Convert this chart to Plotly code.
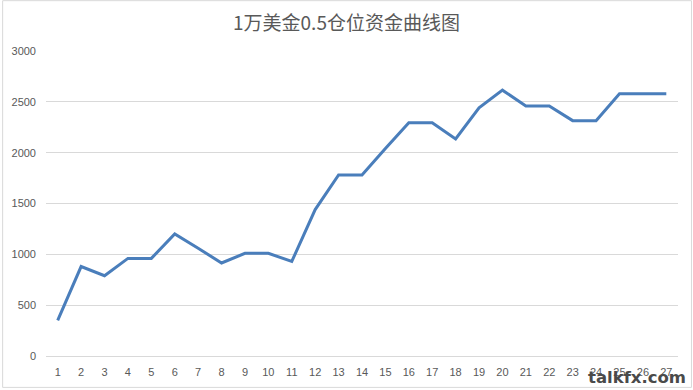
import plotly.graph_objects as go

# Data
periods = list(range(1, 28))
capital = [350, 880, 790, 960, 960, 1200, 1060, 915, 1010, 1010, 930, 1440, 1780, 1780,
           2040, 2295, 2295, 2135, 2440, 2615, 2460, 2460, 2315, 2315, 2580, 2580, 2580]
y_ticks = [0, 500, 1000, 1500, 2000, 2500, 3000]
title_text = "1万美金0.5仓位资金曲线图"
watermark = "talkfx.com"

W, H = 693, 390
L, R, T, B = 44, 15, 51, 33
pw, ph = W - L - R, H - T - B

fig = go.Figure()
fig.add_trace(go.Scatter(
    x=periods, y=capital, mode="lines",
    line=dict(color="#4a7ebb", width=3),
    hoverinfo="x+y", showlegend=False,
))

fig.update_layout(
    width=W, height=H,
    margin=dict(l=L, r=R, t=T, b=B, pad=0),
    paper_bgcolor="white", plot_bgcolor="white",
    title=dict(text=title_text, x=0.5, xref="container", xanchor="center",
               y=1 - 23 / H, yref="container", yanchor="middle",
               font=dict(family="Noto Sans CJK SC", size=19, color="#595959")),
    xaxis=dict(
        type="linear", range=[0.5, 27.5], tickmode="array", tickvals=periods,
        ticktext=[str(p) for p in periods],
        showgrid=False, zeroline=False, showline=True, linecolor="#d9d9d9", linewidth=1,
        ticks="", ticklabelstandoff=6,
        tickfont=dict(family="Liberation Sans", size=11, color="#595959"),
        fixedrange=True,
    ),
    yaxis=dict(
        range=[0, 3000], tickmode="array", tickvals=y_ticks,
        showgrid=True, gridcolor="#d9d9d9", gridwidth=1, zeroline=False,
        showline=False, ticks="", ticklabelstandoff=9,
        tickfont=dict(family="Liberation Sans", size=11, color="#595959"),
        fixedrange=True,
    ),
    shapes=[dict(
        type="rect", xref="paper", yref="paper",
        x0=(0.5 - L) / pw, x1=1 + (R - 1.5) / pw,
        y0=-(B - 1.5) / ph, y1=1 + (T - 0.5) / ph,
        line=dict(color="#d9d9d9", width=1), fillcolor="rgba(0,0,0,0)", layer="below",
    )],
    annotations=[dict(
        text="<b>" + watermark + "</b>", xref="paper", yref="paper",
        x=1 + (R - 5) / pw, y=-(B - 11.5) / ph, xanchor="right", yanchor="middle",
        showarrow=False,
        font=dict(family="DejaVu Sans", size=16.5, color="#4a4a4a"),
    )],
)

fig.write_html("out.html")
